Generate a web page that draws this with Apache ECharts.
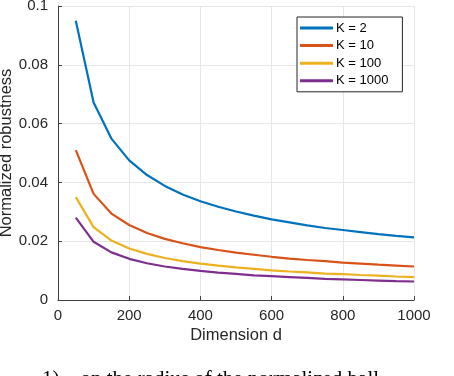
<!DOCTYPE html>
<html>
<head>
<meta charset="utf-8">
<script src="https://cdn.jsdelivr.net/npm/echarts@6/dist/echarts.min.js"></script>
<style>
  html, body { margin: 0; padding: 0; background: #fff; }
  #chart { width: 454px; height: 376px; }
</style>
</head>
<body>
<div id="chart"></div>
<script>
// dimension d values (x)
const dims = [50, 100, 150, 200, 250, 300, 350, 400, 450, 500,
  550, 600, 650, 700, 750, 800, 850, 900, 950, 1000];

const seriesNames = ['K = 2', 'K = 10', 'K = 100', 'K = 1000'];
const k2 = [0.0950, 0.0672, 0.0549, 0.0475, 0.0425, 0.0388, 0.0359, 0.0336, 0.0317, 0.0301,
  0.0287, 0.0274, 0.0264, 0.0254, 0.0245, 0.0238, 0.0231, 0.0224, 0.0218, 0.0213];
const k10 = [0.0510, 0.0361, 0.0294, 0.0255, 0.0228, 0.0208, 0.0193, 0.0180, 0.0170, 0.0161,
  0.0154, 0.0147, 0.0141, 0.0136, 0.0132, 0.0127, 0.0124, 0.0120, 0.0117, 0.0114];
const k100 = [0.0350, 0.0248, 0.0202, 0.0175, 0.0157, 0.0143, 0.0132, 0.0124, 0.0117, 0.0111,
  0.0106, 0.0101, 0.0097, 0.0094, 0.0090, 0.0088, 0.0085, 0.0083, 0.0080, 0.0078];
const k1000 = [0.0280, 0.0198, 0.0162, 0.0140, 0.0125, 0.0114, 0.0106, 0.0099, 0.0093, 0.0089,
  0.0084, 0.0081, 0.0078, 0.0075, 0.0072, 0.0070, 0.0068, 0.0066, 0.0064, 0.0063];

const colors = ['#0072BD', '#D95319', '#EDB120', '#7E2F8E'];
const font = '"Liberation Sans", Arial, Helvetica, sans-serif';

const chart = echarts.init(document.getElementById('chart'));

const allValues = [k2, k10, k100, k1000];
const series = allValues.map((vals, i) => ({
  name: seriesNames[i],
  type: 'line',
  data: dims.map((d, j) => [d, vals[j]]),
  showSymbol: false,
  lineStyle: { color: colors[i], width: 2.2 },
  itemStyle: { color: colors[i] },
  z: 10 - i
}));

chart.setOption({
  animation: false,
  color: colors,
  grid: { left: 58, right: 40, top: 6, bottom: 76, outerBoundsMode: 'none', containLabel: false },
  legend: {
    orient: 'vertical',
    left: 297,
    top: 17,
    padding: [4, 14, 4, 3],
    itemGap: 3.6,
    itemWidth: 33,
    itemHeight: 3,
    icon: 'rect',
    backgroundColor: '#fff',
    borderColor: '#262626',
    borderWidth: 1,
    borderRadius: 0,
    textStyle: { fontFamily: font, fontSize: 13, color: '#000', padding: [0, 0, 0, -2], lineHeight: 14 },
    data: seriesNames
  },
  xAxis: {
    type: 'value',
    min: 0,
    max: 1000,
    interval: 200,
    name: 'Dimension d',
    nameLocation: 'middle',
    nameGap: 27,
    nameMoveOverlap: false,
    nameTextStyle: { fontFamily: font, fontSize: 16.5, color: '#262626' },
    axisLine: { onZero: false, lineStyle: { color: '#404040', width: 1 } },
    axisTick: { inside: true, length: 4, lineStyle: { color: '#404040' } },
    axisLabel: { fontFamily: font, fontSize: 15, color: '#262626', margin: 8, formatter: v => String(v) },
    splitLine: { show: true, lineStyle: { color: '#e6e6e6', width: 1 } }
  },
  yAxis: {
    type: 'value',
    min: 0,
    max: 0.1,
    interval: 0.02,
    name: 'Normalized robustness',
    nameLocation: 'middle',
    nameGap: 43,
    nameMoveOverlap: false,
    nameTextStyle: { fontFamily: font, fontSize: 16.5, color: '#262626' },
    axisLine: { show: true, onZero: false, lineStyle: { color: '#404040', width: 1 } },
    axisTick: { show: true, inside: true, length: 4, lineStyle: { color: '#404040' } },
    axisLabel: {
      fontFamily: font, fontSize: 15, color: '#262626', margin: 10,
      formatter: v => (v === 0 ? '0' : String(Math.round(v * 100) / 100))
    },
    splitLine: { show: true, lineStyle: { color: '#e6e6e6', width: 1 } }
  },
  graphic: [{
    type: 'text',
    left: 42,
    top: 369,
    style: {
      text: '1)    on the radius of the normalized ball',
      font: '21px "Liberation Serif", "DejaVu Serif", serif',
      fill: '#000'
    }
  }],
  series: series
});
</script>
</body>
</html>
